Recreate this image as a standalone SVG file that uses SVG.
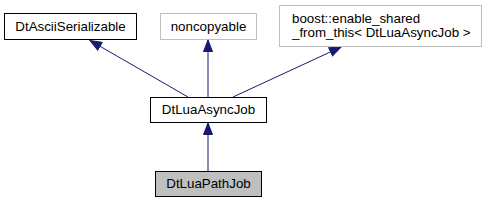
<svg xmlns="http://www.w3.org/2000/svg" width="485" height="203" viewBox="0 0 485 203">
<style>
text{font-family:"Liberation Sans",Arial,sans-serif;font-size:13.33px;fill:#000}
.n{fill:#fff;stroke:#000;stroke-width:1}
.g{fill:#fff;stroke:#bfbfbf;stroke-width:1}
.c{fill:#bfbfbf;stroke:#000;stroke-width:1}
.e{stroke:#191970;stroke-width:1;fill:none;marker-end:url(#ah)}
</style>
<defs>
<marker id="ah" markerUnits="userSpaceOnUse" markerWidth="13" markerHeight="11" refX="12" refY="5" orient="auto">
<path d="M0.5,0.5 L12,5 L0.5,9.5 z" fill="#191970" stroke="#191970"/>
</marker>
</defs>
<rect width="485" height="203" fill="#fff"/>
<g id="edges">
<path class="e" d="M188,97 L90,40.5"/>
<path class="e" d="M208,97 L208,40"/>
<path class="e" d="M233,97 L341,47"/>
<path class="e" d="M208,171 L208,123"/>
</g>
<g id="DtAsciiSerializable">
<rect class="n" x="4.5" y="13.5" width="132" height="26"/>
<text x="70.5" y="31" text-anchor="middle">DtAsciiSerializable</text>
</g>
<g id="noncopyable">
<rect class="g" x="160.5" y="13.5" width="96" height="26"/>
<text x="208.5" y="31" text-anchor="middle">noncopyable</text>
</g>
<g id="enable_shared">
<rect class="g" x="279.5" y="5.5" width="202" height="41"/>
<text x="292" y="22.5">boost::enable_shared</text>
<text x="292" y="37">_from_this&lt; DtLuaAsyncJob &gt;</text>
</g>
<g id="DtLuaAsyncJob">
<rect class="n" x="150.5" y="97.5" width="116" height="25"/>
<text x="208.5" y="114" text-anchor="middle">DtLuaAsyncJob</text>
</g>
<g id="DtLuaPathJob">
<rect class="c" x="155.5" y="171.5" width="106" height="25"/>
<text x="208.5" y="188" text-anchor="middle">DtLuaPathJob</text>
</g>
</svg>
